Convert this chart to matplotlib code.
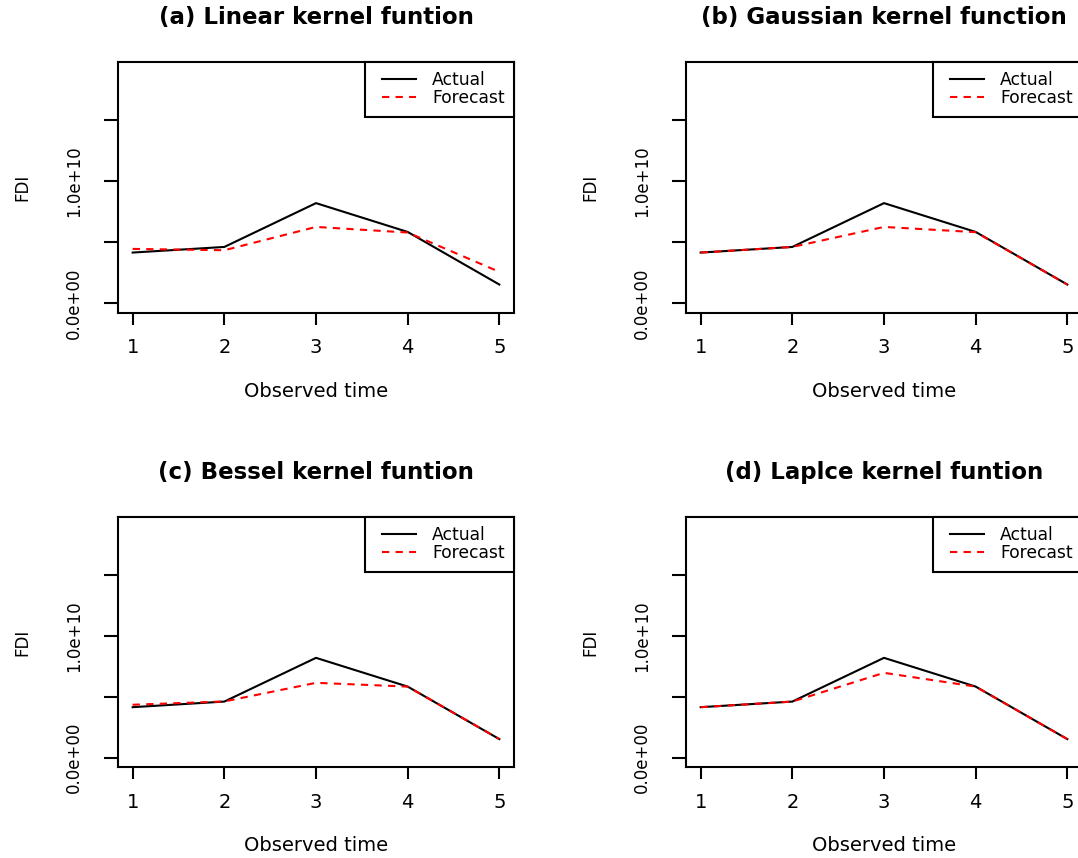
import matplotlib
matplotlib.use("Agg")
import matplotlib.pyplot as plt
from matplotlib.lines import Line2D
from matplotlib.legend_handler import HandlerLine2D

# === DATA ===
observed_time = [1, 2, 3, 4, 5]
actual = [4.15e9, 4.61e9, 8.20e9, 5.84e9, 1.53e9]

forecast_linear = [4.45e9, 4.34e9, 6.25e9, 5.79e9, 2.57e9]
forecast_gaussian = [4.15e9, 4.61e9, 6.25e9, 5.82e9, 1.53e9]
forecast_bessel = [4.35e9, 4.62e9, 6.15e9, 5.84e9, 1.53e9]
forecast_laplace = [4.15e9, 4.61e9, 6.97e9, 5.84e9, 1.53e9]

titles = ["(a) Linear kernel funtion", "(b) Gaussian kernel function",
          "(c) Bessel kernel funtion", "(d) Laplce kernel funtion"]
forecasts = [forecast_linear, forecast_gaussian, forecast_bessel, forecast_laplace]

y_ticks = [0, 5e9, 1e10, 1.5e10]
y_tick_labels = ["0.0e+00", "", "1.0e+10", ""]

# === STYLE ===
plt.rcParams['font.family'] = ['DejaVu Sans']
W, H = 1078, 858
fig = plt.figure(figsize=(W / 100, H / 100), dpi=100)

# panel boxes in pixels: (left, top, width, height)
boxes = [(118, 62, 396, 250.5), (686, 62, 396, 250.5),
         (118, 517, 396, 250), (686, 517, 396, 250)]

ymin, ymax = 0, 1.9e10
ypad = 0.04 * (ymax - ymin)

for box, title, fc in zip(boxes, titles, forecasts):
    left, top, w, h = box
    ax = fig.add_axes([left / W, 1 - (top + h) / H, w / W, h / H])

    ax.plot(observed_time, actual, color='black', lw=1.5, label='Actual')
    ax.plot(observed_time, fc, color='red', lw=1.5, dashes=(3.5, 3), label='Forecast')

    ax.set_xlim(0.84, 5.16)
    ax.set_ylim(ymin - ypad, ymax + ypad)
    ax.set_xticks(observed_time)
    ax.set_yticks(y_ticks)
    ax.set_yticklabels(y_tick_labels, rotation=90, va='center')

    for s in ax.spines.values():
        s.set_linewidth(1.5)
    ax.tick_params(axis='x', length=8.5, width=1.5, pad=10, labelsize=14)
    ax.tick_params(axis='y', length=10, width=1.5, pad=15, labelsize=12)

    ax.set_xlabel("Observed time", fontsize=14, va='center')
    ax.xaxis.set_label_coords(0.5, -(391.5 - 312.5) / 250.5)
    ax.set_ylabel("FDI", fontsize=12, va='center', ha='center')
    ax.yaxis.set_label_coords(-(118 - 22.5) / 396, 0.5)

    ax.text(0.5, 1 + 44.5 / h, title, transform=ax.transAxes, ha='center',
            va='center', fontsize=16.5, fontweight='bold')

    leg = ax.legend(loc='upper right', borderaxespad=0, fancybox=False,
                    fontsize=12.3, handlelength=2.45, handletextpad=0.94,
                    borderpad=0.55, labelspacing=0.0, framealpha=1,
                    handler_map={Line2D: HandlerLine2D(xpad=0.45)})
    leg.get_frame().set_edgecolor('black')
    leg.get_frame().set_linewidth(1.5)

fig.savefig("out.png", dpi=100)
